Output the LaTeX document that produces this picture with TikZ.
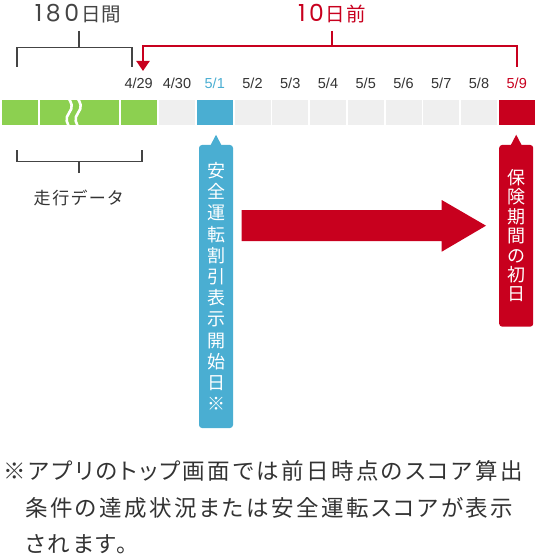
\documentclass[tikz,border=0pt]{standalone}
\usepackage{fontspec}
\setmainfont{Noto Sans CJK JP}
\newfontfamily\notefont[RawFeature=+palt, LetterSpace=11]{Noto Sans CJK JP}
\newfontfamily\datefont{Liberation Sans}
\newfontfamily\digitfont{Poppins}
\usetikzlibrary{arrows.meta}
\definecolor{cgreen}{RGB}{140,208,80}
\definecolor{cgray}{RGB}{239,239,239}
\definecolor{cblue}{RGB}{74,174,210}
\definecolor{cred}{RGB}{200,0,30}
\definecolor{ctext}{RGB}{51,51,51}
\definecolor{cline}{RGB}{68,68,68}
\tikzset{
  cell/.style={inner sep=0pt, minimum width=36pt, minimum height=25pt, anchor=north west},
  datelbl/.style={font=\datefont\fontsize{14.5}{14.5}\selectfont, text=ctext, inner sep=0pt},
  grayline/.style={draw=cline, line width=1.3pt},
  redline/.style={draw=cred, line width=2pt},
  callout/.style={inner sep=0pt, rounded corners=3pt, minimum width=34pt, align=center, text=white,
     font=\fontsize{18}{21.2}\selectfont},
  note/.style={font=\notefont\fontsize{22.5}{22.5}\selectfont, text=ctext, inner sep=0pt, anchor=west},
  heading/.style={inner sep=0pt, font=\fontsize{19.5}{19.5}\selectfont},
}
\begin{document}
\begin{tikzpicture}[x=1pt,y=-1pt]
\useasboundingbox (0,0) rectangle (536,556);
% bar cells
\node[cell, fill=cgreen, minimum width=36pt] (g1) at (2,100) {};
\node[cell, fill=cgreen, minimum width=78.5pt] (g2) at (40,100) {};
\node[cell, fill=cgreen, minimum width=36.5pt] (c0) at (120.5,100) {};
\node[cell, fill=cgray] (c1) at (159,100) {};
\node[cell, fill=cblue] (c2) at (196.75,100) {};
\node[cell, fill=cgray] (c3) at (234.5,100) {};
\node[cell, fill=cgray] (c4) at (272.25,100) {};
\node[cell, fill=cgray] (c5) at (310,100) {};
\node[cell, fill=cgray] (c6) at (347.75,100) {};
\node[cell, fill=cgray] (c7) at (385.5,100) {};
\node[cell, fill=cgray] (c8) at (423.25,100) {};
\node[cell, fill=cgray] (c9) at (461,100) {};
\node[cell, fill=cred] (c10) at (498.75,100) {};
% squiggle
\draw[white, line width=2.6pt] (66,96) .. controls (73,102) and (73,108) .. (69,113) .. controls (65,118) and (66,124) .. (72,130);
\draw[white, line width=2.6pt] (75,96) .. controls (82,102) and (82,108) .. (78,113) .. controls (74,118) and (75,124) .. (81,130);
% date labels
\node[datelbl] (d0) at (138.7,83) {4/29};
\node[datelbl] (d1) at (177,83) {4/30};
\node[datelbl, text=cblue] (d2) at (214.75,83) {5/1};
\node[datelbl] (d3) at (252.5,83) {5/2};
\node[datelbl] (d4) at (290.25,83) {5/3};
\node[datelbl] (d5) at (328,83) {5/4};
\node[datelbl] (d6) at (365.75,83) {5/5};
\node[datelbl] (d7) at (403.5,83) {5/6};
\node[datelbl] (d8) at (441.25,83) {5/7};
\node[datelbl] (d9) at (479,83) {5/8};
\node[datelbl, text=cred] (d10) at (516.75,83) {5/9};
% 180 days bracket
\node[heading, text=cline] (t180) at (78,13.5) {{\digitfont\fontsize{23.5}{23.5}\selectfont 1\kern3.5pt 8\kern3.5pt 0}\kern2pt 日\kern1pt 間};
\coordinate (b1l) at (17,67);
\coordinate (b1r) at (132,67);
\coordinate (b1m) at (79,31);
\draw[grayline] (b1l) -- (17,47.5) -- (132,47.5) -- (b1r);
\draw[grayline] (b1m) -- (79,47.5);
% 10 days bracket
\node[heading, text=cred] (t10) at (332,13.5) {{\digitfont\fontsize{23.5}{23.5}\selectfont 1\kern3.5pt 0}\kern2pt 日\kern1pt 前};
\coordinate (r1r) at (517,67);
\coordinate (r1l) at (143,71);
\coordinate (r1m) at (332,31);
\draw[redline, -{Triangle[width=13pt 0 0,length=10pt 0 0]}] (r1r) -- (517,46) -- (143,46) -- (r1l);
\draw[redline] (r1m) -- (332,46);
% driving data bracket
\coordinate (b2l) at (17,150.5);
\coordinate (b2r) at (142,150.5);
\coordinate (b2m) at (79,173);
\draw[grayline] (b2l) -- (17,161.5) -- (142,161.5) -- (b2r);
\draw[grayline] (b2m) -- (79,161.5);
\node[font=\notefont\fontsize{17}{17}\selectfont, text=ctext, inner sep=0pt] (tdrive) at (78,198) {走行データ};
% blue callout
\node[callout, fill=cblue, minimum height=283pt] (bc) at (216,286.5)
  {安\\全\\運\\転\\割\\引\\表\\示\\開\\始\\日\\※};
\fill[cblue] ([xshift=-5.5pt,yshift=-0.5pt]bc.north) -- ([yshift=10pt]bc.north) -- ([xshift=5.5pt,yshift=-0.5pt]bc.north) -- cycle;
% red callout
\node[callout, fill=cred, minimum height=181.7pt, font=\fontsize{18}{19.4}\selectfont] (rc) at (516.2,235.8)
  {保\\険\\期\\間\\の\\初\\日};
\fill[cred] ([xshift=-5.5pt,yshift=-0.5pt]rc.north) -- ([yshift=10pt]rc.north) -- ([xshift=5.5pt,yshift=-0.5pt]rc.north) -- cycle;
% big arrow
\coordinate (as) at (241.7,225.7);
\coordinate (ae) at (486,225.7);
\fill[cred] ([yshift=15.5pt]as) -- (441.7,210.2) -- (441.7,200) -- (ae) -- (441.7,251.7) -- (441.7,241.2) -- ([yshift=-15.5pt]as) -- cycle;
% footnote
\node[note] (n1) at (3,471) {※アプリのトップ画面では前日時点のスコア算出};
\node[note] (n2) at (25,507.5) {条件の達成状況または安全運転スコアが表示};
\node[note] (n3) at (25,544) {されます。};
\end{tikzpicture}
\end{document}
